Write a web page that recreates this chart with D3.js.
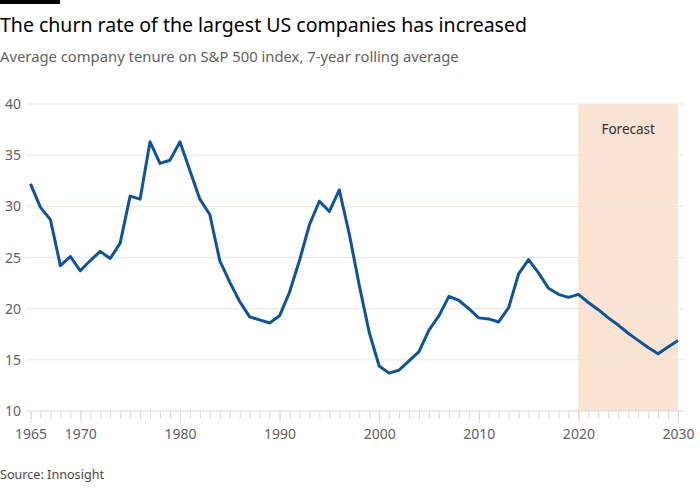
<!DOCTYPE html>
<html>
<head>
<meta charset="utf-8">
<script src="https://cdn.jsdelivr.net/npm/d3@7"></script>
<style>
  body { margin: 0; background: #fff; }
  svg { display: block; font-family: "Noto Sans", "Open Sans", sans-serif; }
</style>
</head>
<body>
<svg id="chart" width="700" height="500"></svg>
<script>
const titleText = "The churn rate of the largest US companies has increased";
const subtitleText = "Average company tenure on S&P 500 index, 7-year rolling average";
const sourceText = "Source: Innosight";
const forecastLabel = "Forecast";

const years = d3.range(1965, 2031);
const tenure = [
  32.2, 29.9, 28.7, 24.2, 25.1, 23.7, 24.7, 25.6, 24.9, 26.4,
  31.0, 30.7, 36.3, 34.2, 34.5, 36.3, 33.5, 30.7, 29.2, 24.7,
  22.6, 20.7, 19.2, 18.9, 18.6, 19.3, 21.6, 24.7, 28.2, 30.5,
  29.5, 31.6, 27.3, 22.3, 17.7, 14.4, 13.7, 14.0, 14.9, 15.8,
  17.9, 19.3, 21.2, 20.8, 20.0, 19.1, 19.0, 18.7, 20.1, 23.4,
  24.8, 23.5, 22.0, 21.4, 21.1, 21.4, 20.6, 19.9, 19.1, 18.4,
  17.6, 16.9, 16.2, 15.6, 16.25, 16.9
];
const forecastRange = [2020, 2030];
const yTicks = [10, 15, 20, 25, 30, 35, 40];
const xTickLabels = [1965, 1970, 1980, 1990, 2000, 2010, 2020, 2030];

const data = years.map((y, i) => ({ year: y, value: tenure[i] }));

const svg = d3.select("#chart");

const x = d3.scaleLinear().domain([1965, 2030]).range([30.5, 678]);
const y = d3.scaleLinear().domain([10, 40]).range([411, 104]);

// top black bar
svg.append("rect").attr("x", 0).attr("y", 0).attr("width", 60).attr("height", 4).attr("fill", "#000");

function fitText(sel, target) {
  const n = sel.node();
  let fs = parseFloat(sel.attr("font-size"));
  const w = n.getComputedTextLength();
  if (w > 0) sel.attr("font-size", (fs * target / w).toFixed(2));
}

const title = svg.append("text").attr("x", 0).attr("y", 32).attr("font-size", 21)
  .attr("fill", "#000").text(titleText);
fitText(title, 527);

const sub = svg.append("text").attr("x", 0).attr("y", 62).attr("font-size", 15)
  .attr("fill", "#66605c").text(subtitleText);
fitText(sub, 459);

// forecast band
svg.append("rect")
  .attr("x", x(forecastRange[0])).attr("y", y(40))
  .attr("width", x(forecastRange[1]) - x(forecastRange[0]))
  .attr("height", y(10) - y(40))
  .attr("fill", "#fbe4d3");

svg.append("text").attr("x", (x(forecastRange[0]) + x(forecastRange[1])) / 2).attr("y", 134)
  .attr("text-anchor", "middle").attr("font-size", 13.5).attr("fill", "#33302e").text(forecastLabel);

// gridlines
svg.append("g").selectAll("line").data(yTicks.filter(t => t !== 10)).join("line")
  .attr("x1", 26).attr("x2", 684)
  .attr("y1", d => y(d)).attr("y2", d => y(d))
  .attr("stroke", "#efe5dd").attr("stroke-width", 1);

// y labels
svg.append("g").selectAll("text").data(yTicks).join("text")
  .attr("x", 5).attr("y", d => y(d)).attr("dy", "0.36em")
  .attr("font-size", 14).attr("fill", "#66605c").text(d => d);

// x axis: minor ticks every year
const xAxisMinor = d3.axisBottom(x).tickValues(years).tickSize(8).tickFormat("");
const gMinor = svg.append("g").attr("transform", `translate(0,${y(10)})`).call(xAxisMinor);
gMinor.select(".domain").remove();
gMinor.selectAll("line").attr("stroke", "#e0d8d2");

const xAxisMajor = d3.axisBottom(x).tickValues(xTickLabels).tickSize(12).tickPadding(6).tickFormat(d3.format("d"));
const gMajor = svg.append("g").attr("transform", `translate(0,${y(10)})`).call(xAxisMajor);
gMajor.select(".domain").remove();
gMajor.selectAll("line").attr("stroke", "#e0d8d2");
gMajor.selectAll("text").attr("font-size", 14).attr("fill", "#66605c")
  .attr("font-family", "'Noto Sans', 'Open Sans', sans-serif");

svg.append("line").attr("x1", 26).attr("x2", 684).attr("y1", y(10)).attr("y2", y(10))
  .attr("stroke", "#e0d8d2").attr("stroke-width", 1);

// line
const line = d3.line().x(d => x(d.year)).y(d => y(d.value));
svg.append("path").datum(data).attr("d", line)
  .attr("fill", "none").attr("stroke", "#0f5499").attr("stroke-width", 3)
  .attr("stroke-linejoin", "round");

const src = svg.append("text").attr("x", 0).attr("y", 479).attr("font-size", 13)
  .attr("fill", "#4d4845").text(sourceText);
fitText(src, 104);
</script>
</body>
</html>
